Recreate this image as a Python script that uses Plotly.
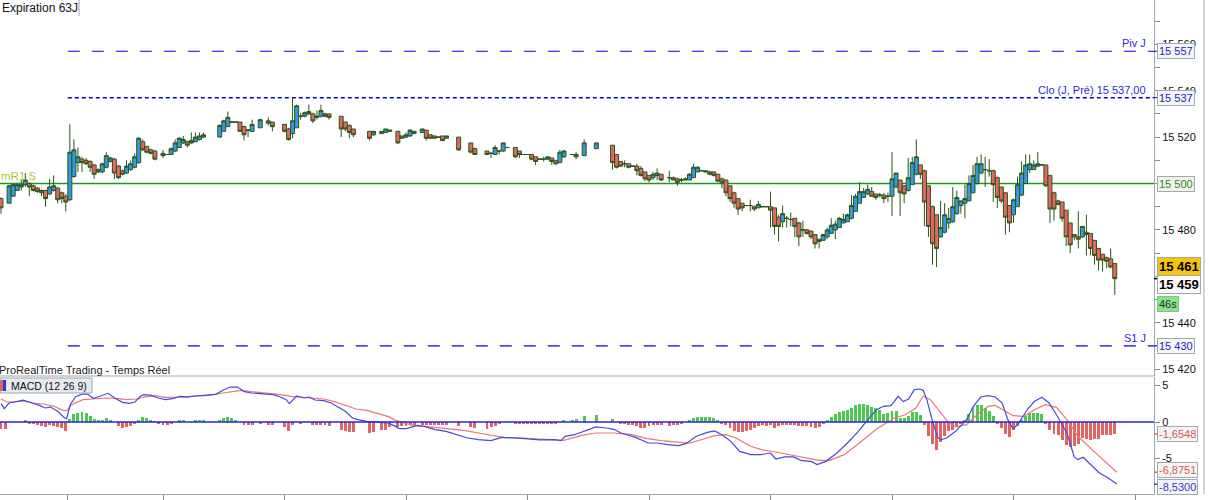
import plotly.graph_objects as go

W, H = 1209, 500
PLOT_H = 494          # plot area height, the last 6 px hold the time ticks
FONT = "Liberation Sans, Arial, sans-serif"

# ---- candles: x is the bar slot of the intraday chart (gaps = no trade)
slots = [0, 2, 3, 4, 5, 6, 7, 8, 9, 10,
         11, 12, 13, 14, 15, 16, 17, 18, 19, 20,
         21, 22, 23, 24, 25, 26, 27, 28, 29, 30,
         31, 32, 33, 34, 35, 36, 37, 38, 40, 41,
         42, 43, 44, 45, 46, 47, 48, 49, 50, 54,
         55, 56, 57, 58, 59, 60, 61, 62, 64, 66,
         67, 70, 71, 72, 73, 74, 75, 76, 77, 78,
         79, 80, 81, 84, 85, 86, 87, 91, 92, 94,
         95, 96, 98, 99, 100, 101, 102, 104, 105, 106,
         107, 108, 109, 110, 113, 116, 117, 120, 121, 122,
         123, 124, 125, 127, 128, 129, 130, 131, 132, 133,
         134, 135, 136, 137, 138, 139, 141, 142, 144, 147,
         151, 152, 153, 154, 155, 156, 157, 158, 159, 160,
         161, 162, 163, 165, 166, 167, 168, 169, 170, 171,
         172, 173, 174, 175, 176, 177, 178, 179, 180, 181,
         182, 183, 184, 185, 186, 187, 188, 189, 190, 191,
         192, 193, 194, 195, 196, 197, 198, 199, 200, 201,
         202, 203, 204, 205, 206, 207, 208, 209, 210, 211,
         212, 213, 214, 215, 216, 217, 218, 219, 220, 221,
         222, 223, 224, 225, 226, 227, 228, 229, 230, 231,
         232, 233, 234, 235, 236, 237, 238, 239, 240, 241,
         242, 243, 244, 245, 246, 247, 248, 249, 250, 251,
         252, 253, 254, 255, 256, 257, 258, 259, 260, 261,
         262, 263, 264, 265, 266, 267, 268, 269, 270, 271,
         272, 273, 274, 275]

opens = [15493.5, 15491.5, 15494.5, 15497, 15498.5, 15499.5, 15500, 15499, 15498, 15497,
         15497, 15495.5, 15497, 15498, 15496, 15494.5, 15493, 15503, 15509, 15510.5,
         15510, 15509.5, 15508, 15506, 15505, 15507, 15509.5, 15510.5, 15507.5, 15505.5,
         15504.5, 15506, 15507, 15509, 15518, 15516, 15514.5, 15514, 15512, 15512.5,
         15512.5, 15514, 15515.5, 15517.5, 15518, 15517.5, 15518, 15519, 15520, 15520,
         15522.5, 15524.5, 15526.5, 15526.5, 15526.5, 15524.5, 15523, 15522.5, 15524, 15526,
         15526.5, 15525.5, 15523.5, 15521.5, 15524, 15529, 15529, 15530, 15530, 15528.5,
         15529, 15530, 15530, 15529, 15526.5, 15525, 15523.5, 15522.5, 15521, 15521.5,
         15522, 15522.5, 15522.5, 15520.5, 15520, 15520.5, 15521.5, 15522, 15523, 15521,
         15520.5, 15520, 15520.5, 15519.5, 15520, 15517.5, 15515, 15514, 15513, 15512.5,
         15514, 15514, 15515.5, 15515.5, 15514, 15512.5, 15512.5, 15512.5, 15511.5, 15510.5,
         15510.5, 15510.5, 15511, 15510, 15509, 15511.5, 15512.5, 15512.5, 15512, 15515,
         15516.5, 15512.5, 15509.5, 15508.5, 15508.5, 15507.5, 15507.5, 15506.5, 15505, 15503.5,
         15502.5, 15503.5, 15504, 15502.5, 15502.5, 15502, 15501.5, 15501.5, 15501.5, 15502.5,
         15505, 15505.5, 15505.5, 15505, 15505, 15504, 15502, 15501.5, 15499, 15496,
         15493.5, 15491.5, 15490.5, 15490.5, 15490, 15489.5, 15490, 15490, 15490, 15489.5,
         15485.5, 15483.5, 15485, 15484.5, 15485, 15483, 15480, 15480, 15479.5, 15478,
         15476, 15475.5, 15477, 15478.5, 15480, 15481, 15483, 15483.5, 15485, 15488,
         15491.5, 15494, 15495.5, 15496.5, 15495.5, 15495, 15495, 15494.5, 15494.5, 15498.5,
         15501.5, 15499, 15497, 15499.5, 15504, 15508, 15505.5, 15499, 15490, 15486.5,
         15477, 15479, 15483, 15483.5, 15487, 15490.5, 15491.5, 15492.5, 15496, 15500,
         15504.5, 15506, 15505.5, 15505.5, 15502.5, 15498.5, 15496, 15490.5, 15486.5, 15490,
         15495, 15500, 15506, 15506, 15507.5, 15508, 15508, 15503.5, 15496, 15492.5,
         15492, 15488.5, 15483, 15478, 15477, 15477, 15479, 15478.5, 15475.5, 15472,
         15469.5, 15468, 15467.5, 15465.5]

highs = [15494, 15499.5, 15500, 15500, 15501.5, 15504.5, 15500.5, 15499.5, 15498.5, 15497.5,
         15497, 15502, 15503.5, 15498.5, 15496.5, 15495.5, 15525.5, 15519, 15515.5, 15511.5,
         15511, 15510, 15508.5, 15506.5, 15509, 15513.5, 15511.5, 15511, 15508, 15506,
         15510, 15510, 15513, 15520, 15519, 15516, 15515, 15514.5, 15514.5, 15512.5,
         15515.5, 15519, 15520, 15520.5, 15518.5, 15522, 15522, 15522, 15522, 15525.5,
         15527.5, 15531, 15527, 15526.5, 15526.5, 15525, 15523.5, 15527.5, 15528, 15528.5,
         15526.5, 15525.5, 15524, 15537, 15534, 15530.5, 15531, 15534, 15530.5, 15531.5,
         15534, 15530.5, 15530, 15529, 15526.5, 15525.5, 15523.5, 15522.5, 15522.5, 15522.5,
         15523.5, 15523, 15522.5, 15520.5, 15522, 15523.5, 15522.5, 15523.5, 15523, 15521,
         15520.5, 15520, 15520.5, 15520.5, 15520, 15517.5, 15515.5, 15514, 15513.5, 15516.5,
         15514.5, 15517.5, 15515.5, 15515.5, 15514, 15512.5, 15512.5, 15512.5, 15511.5, 15510.5,
         15511.5, 15511.5, 15511, 15510, 15514.5, 15514.5, 15512.5, 15513.5, 15519, 15517.5,
         15516.5, 15512.5, 15509.5, 15510, 15508.5, 15507.5, 15508.5, 15507.5, 15505, 15503.5,
         15505, 15506.5, 15504, 15505.5, 15503, 15502.5, 15502.5, 15502.5, 15504.5, 15508.5,
         15507.5, 15505.5, 15505.5, 15505.5, 15505, 15504, 15502.5, 15501.5, 15499, 15496.5,
         15493.5, 15491.5, 15490.5, 15493, 15490.5, 15492.5, 15490, 15490, 15496.5, 15489.5,
         15486.5, 15490.5, 15486, 15487.5, 15485, 15483.5, 15484, 15480.5, 15479.5, 15478,
         15476, 15478, 15481, 15485, 15484, 15485.5, 15487, 15487, 15495, 15495.5,
         15500.5, 15498, 15499.5, 15498.5, 15495.5, 15496, 15496, 15496, 15513.5, 15504.5,
         15501.5, 15499, 15511, 15511.5, 15519, 15508, 15506, 15499, 15490.5, 15486.5,
         15492.5, 15491.5, 15489.5, 15498.5, 15497, 15492.5, 15499.5, 15503.5, 15508, 15511.5,
         15512.5, 15511.5, 15510.5, 15506, 15503, 15498.5, 15496, 15490.5, 15493.5, 15503,
         15509.5, 15512.5, 15512.5, 15510, 15513.5, 15508, 15508, 15503.5, 15496.5, 15493,
         15492, 15488.5, 15483, 15478, 15488, 15481.5, 15486.5, 15478.5, 15475.5, 15472,
         15469.5, 15468.5, 15472, 15465.5]

lows = [15487, 15491.5, 15494.5, 15497, 15497, 15498.5, 15494.5, 15496.5, 15496, 15494.5,
        15490, 15495, 15496.5, 15491.5, 15491.5, 15488, 15492.5, 15502.5, 15505, 15505,
        15508, 15505, 15502, 15504.5, 15504.5, 15506.5, 15509, 15502, 15502, 15503.5,
        15504, 15505.5, 15506.5, 15508.5, 15514, 15513, 15512.5, 15510, 15511, 15512.5,
        15512.5, 15513.5, 15515.5, 15517, 15515.5, 15517, 15518, 15518.5, 15519.5, 15520,
        15522.5, 15524.5, 15526, 15526.5, 15522.5, 15518.5, 15520, 15522.5, 15524, 15525,
        15522.5, 15522, 15518.5, 15519.5, 15524, 15527.5, 15528.5, 15529.5, 15526, 15527.5,
        15528.5, 15528.5, 15527.5, 15520, 15522.5, 15519.5, 15520, 15518.5, 15520.5, 15521.5,
        15522, 15522.5, 15517, 15519.5, 15519.5, 15520, 15521.5, 15522, 15518.5, 15519.5,
        15519.5, 15520, 15518.5, 15519.5, 15514, 15513, 15512.5, 15512.5, 15511, 15512.5,
        15512.5, 15513.5, 15515.5, 15511, 15511, 15512.5, 15512.5, 15510, 15508, 15510.5,
        15509.5, 15510, 15508, 15508, 15509, 15511, 15512.5, 15510.5, 15512, 15515,
        15506, 15506.5, 15507, 15507, 15506.5, 15507.5, 15503.5, 15503, 15501, 15500.5,
        15501.5, 15501.5, 15501, 15500.5, 15501.5, 15499, 15500.5, 15501.5, 15501.5, 15502.5,
        15505, 15505.5, 15505, 15503.5, 15503, 15500.5, 15498, 15494.5, 15492, 15489.5,
        15486.5, 15488, 15490.5, 15488, 15488, 15489.5, 15490, 15490, 15481, 15478,
        15475, 15481, 15481, 15481.5, 15477, 15473, 15477, 15478, 15476, 15472,
        15472, 15475.5, 15476, 15478.5, 15476, 15481, 15483, 15483.5, 15484.5, 15488,
        15491.5, 15494, 15495, 15494.5, 15493, 15494, 15491.5, 15492, 15486, 15498,
        15486, 15491.5, 15496.5, 15499.5, 15503.5, 15502, 15481.5, 15477, 15465, 15464,
        15476.5, 15478.5, 15480.5, 15483, 15486.5, 15487, 15485, 15492.5, 15496, 15499.5,
        15504, 15498.5, 15503, 15492, 15489.5, 15491.5, 15478, 15479, 15483, 15490,
        15494.5, 15500, 15504.5, 15506, 15507, 15508, 15498.5, 15483, 15484, 15490.5,
        15483.5, 15473, 15470, 15475.5, 15472, 15476.5, 15469, 15469, 15465, 15462.5,
        15462, 15463.5, 15463.5, 15452]

closes = [15489.5, 15499, 15499.5, 15499.5, 15499.5, 15501.5, 15498.5, 15497, 15496.5, 15496,
          15493.5, 15498.5, 15499, 15493, 15493.5, 15492, 15513.5, 15514.5, 15511.5, 15509,
          15508.5, 15507, 15504, 15505, 15508.5, 15512, 15511, 15504.5, 15502.5, 15504,
          15507.5, 15508.5, 15511.5, 15519.5, 15514.5, 15513.5, 15513, 15510.5, 15513, 15512.5,
          15515, 15517.5, 15519.5, 15519, 15516.5, 15518.5, 15520, 15520.5, 15521, 15525,
          15527, 15528.5, 15526.5, 15526.5, 15522.5, 15521, 15523, 15525.5, 15527.5, 15527,
          15524.5, 15522.5, 15519, 15527, 15533.5, 15529, 15530.5, 15531, 15527, 15529,
          15531.5, 15529, 15528.5, 15523.5, 15523.5, 15522, 15521, 15519.5, 15522.5, 15522.5,
          15523.5, 15523, 15517.5, 15519.5, 15521, 15523, 15522.5, 15523.5, 15519.5, 15519.5,
          15519.5, 15520, 15518.5, 15520.5, 15514.5, 15513.5, 15512.5, 15512.5, 15513, 15515.5,
          15514, 15517.5, 15515.5, 15511.5, 15512.5, 15512.5, 15512.5, 15510.5, 15509.5, 15510.5,
          15510.5, 15511.5, 15509.5, 15508.5, 15513.5, 15514, 15512.5, 15511.5, 15517.5, 15517.5,
          15509, 15507, 15507.5, 15508.5, 15507, 15507.5, 15505.5, 15503.5, 15502, 15501.5,
          15504, 15504.5, 15501.5, 15502.5, 15501.5, 15500.5, 15501.5, 15502, 15504, 15507,
          15507, 15505.5, 15505, 15504, 15503.5, 15501, 15500.5, 15496, 15493.5, 15491.5,
          15489, 15489.5, 15490.5, 15490.5, 15489, 15491, 15490, 15490, 15488.5, 15481.5,
          15481.5, 15487, 15485, 15484.5, 15481.5, 15477, 15480, 15478.5, 15477, 15474,
          15475, 15478, 15480, 15482, 15482.5, 15485, 15484.5, 15486.5, 15490.5, 15494.5,
          15496.5, 15496.5, 15497.5, 15494.5, 15494, 15495, 15493.5, 15494.5, 15502, 15504.5,
          15496, 15495.5, 15502.5, 15509, 15511.5, 15504, 15492, 15481.5, 15474, 15472,
          15481, 15486.5, 15485, 15490, 15494, 15492.5, 15493.5, 15500, 15503.5, 15508.5,
          15508.5, 15506, 15505.5, 15499.5, 15494, 15492.5, 15485.5, 15483, 15493, 15499.5,
          15504.5, 15508, 15508.5, 15508, 15508.5, 15508, 15499, 15489, 15489, 15491,
          15485, 15477, 15473.5, 15477, 15476, 15481.5, 15478, 15472, 15469, 15467,
          15467, 15466.5, 15464, 15459]

assert len(slots) == len(opens) == len(highs) == len(lows) == len(closes)

# ---- MACD (12 26 9) histogram
hist_x = [0, 1, 6, 7, 8, 9, 10, 11, 12, 13,
          14, 15, 16, 17, 18, 19, 20, 21, 22, 23,
          24, 25, 26, 27, 29, 30, 31, 32, 33, 34,
          35, 36, 37, 38, 39, 40, 41, 42, 44, 45,
          48, 49, 50, 54, 55, 56, 57, 58, 60, 61,
          62, 64, 66, 67, 70, 71, 72, 74, 77, 78,
          79, 80, 81, 84, 85, 86, 87, 91, 92, 94,
          95, 96, 98, 99, 100, 101, 102, 104, 105, 106,
          107, 108, 109, 110, 113, 116, 117, 120, 121, 122,
          123, 127, 128, 129, 130, 131, 132, 133, 134, 135,
          136, 137, 139, 141, 142, 144, 147, 151, 153, 154,
          155, 156, 157, 158, 159, 160, 161, 162, 163, 165,
          166, 167, 168, 170, 171, 172, 173, 174, 175, 176,
          177, 178, 179, 180, 181, 182, 183, 184, 185, 186,
          187, 188, 189, 190, 191, 192, 193, 194, 195, 196,
          197, 198, 199, 200, 201, 202, 203, 204, 205, 206,
          207, 208, 209, 210, 211, 212, 213, 214, 215, 216,
          217, 218, 219, 220, 221, 222, 223, 224, 225, 226,
          227, 228, 229, 230, 231, 232, 233, 234, 235, 236,
          237, 238, 239, 240, 241, 242, 243, 244, 245, 246,
          247, 248, 249, 250, 251, 252, 253, 254, 255, 256,
          257, 258, 259, 260, 261, 262, 263, 264, 265, 266,
          267, 268, 269, 270, 271, 272, 273, 274, 275]

hist_v = [-0.96, -0.96, 0.18, -0.23, -0.32, -0.37, -0.5, -0.68, -0.37, -0.5,
          -0.68, -0.82, -1.28, 0.4, 1.14, 1.23, 1.32, 1.23, 0.78, 0.4,
          0.14, 0.32, 0.5, 0.32, -0.6, -0.82, -0.68, -0.5, -0.23, 0.32,
          0.68, 0.5, 0.32, 0.1, -0.14, -0.37, -0.37, -0.28, 0.32, 0.32,
          0.18, 0.18, 0.18, 0.32, 0.55, 0.68, 0.55, 0.32, -0.37, -0.37,
          -0.37, -0.28, -0.46, -0.46, -0.68, -1.19, -0.46, -0.23, -0.37, -0.37,
          -0.37, -0.37, -0.6, -1.14, -1.28, -1.37, -1.37, -1.51, -1.37, -1.14,
          -1.05, -0.7, -0.68, -0.5, -0.6, -0.37, -0.37, -0.37, -0.37, -0.37,
          -0.37, -0.46, -0.4, -0.37, -0.6, -0.68, -0.82, -0.96, -0.68, -0.5,
          -0.23, -0.23, -0.23, -0.23, -0.23, -0.32, -0.32, -0.32, -0.23, -0.23,
          -0.23, -0.23, 0.32, 0.28, 0.37, 0.82, 1.0, 0.37, -0.14, -0.23,
          -0.37, -0.46, -0.6, -0.78, -0.82, -0.6, -0.46, -0.46, -0.46, -0.55,
          -0.46, -0.46, -0.23, 0.14, 0.55, 0.68, 0.68, 0.68, 0.68, 0.55,
          0.14, -0.14, -0.46, -0.82, -1.28, -1.32, -1.32, -1.28, -1.14, -0.82,
          -0.6, -0.46, -0.5, -0.46, -0.82, -0.6, -0.37, -0.37, -0.37, -0.46,
          -0.5, -0.5, -0.6, -0.68, -0.78, -0.68, -0.14, 0.23, 0.68, 1.05,
          1.37, 1.55, 1.64, 1.91, 2.28, 2.51, 2.46, 2.28, 2.1, 1.91,
          1.69, 1.14, 1.28, 1.51, 1.55, 0.6, 0.6, 0.82, 1.41, 1.37,
          1.0, -0.46, -1.91, -2.96, -3.78, -2.74, -1.91, -1.28, -1.14, -0.6,
          -0.23, 0.32, 1.14, 2.1, 2.28, 2.28, 1.91, 1.46, 0.82, -0.23,
          -0.82, -1.69, -2.1, -1.14, -0.55, 0.32, 0.82, 1.28, 1.28, 1.28,
          1.05, -0.14, -1.05, -1.64, -1.73, -2.51, -3.2, -3.42, -3.33, -2.96,
          -2.19, -2.37, -2.42, -2.37, -2.28, -1.82, -1.82, -1.82, -1.65]

assert len(hist_x) == len(hist_v)

# MACD line (blue) and signal line (red)
macd_x = [0, 0.8, 2, 3.3, 5.5, 7.7, 9.5, 10.9, 12.2, 14,
          15.7, 16.2, 17.1, 18.4, 20.2, 21.5, 22.8, 24.6, 26.4, 28.2,
          30, 31.7, 33.1, 34.4, 35.3, 37.1, 38.8, 40.6, 42.4, 44.2,
          46, 47.7, 50.4, 53, 54.8, 56.6, 58.4, 60.1, 61.9, 63.7,
          67.2, 69, 70.4, 71.2, 72.1, 73, 74.8, 76.1, 77.5, 79.7,
          81.5, 83.2, 85, 86.8, 88.1, 90.3, 93, 95.7, 97.4, 98.3,
          100.1, 102.8, 104.5, 107.2, 109.9, 112.5, 115.2, 117.9, 121, 123.6,
          126.7, 129.4, 133, 136.5, 138.3, 139.3, 141.6, 144.2, 146.9, 149.5,
          151.3, 153.1, 156.7, 159.8, 162, 164.6, 167.3, 169.1, 171.7, 174.4,
          176.2, 178, 180.2, 182.4, 185.1, 187.7, 190, 191.3, 193.5, 195.7,
          197.5, 200.2, 201.5, 203.7, 206.4, 209, 211.7, 214.4, 216.2, 217.9,
          219.7, 220.6, 221.5, 222.8, 224.1, 225.5, 226.8, 227.7, 228.6, 229.9,
          231.3, 232.1, 233.5, 235.7, 238.4, 240.1, 241.9, 243.7, 245.5, 247.2,
          248.6, 249.9, 251.2, 253.5, 255.2, 257, 258.8, 260.6, 263.2, 265,
          265.9, 267.2, 269.4, 271.2, 273, 275.5]
macd_v = [2.51, 1.83, 2.6, 2.74, 3.0, 2.6, 2.28, 1.92, 2.05, 1.46,
          0.55, 0.46, 2.37, 3.47, 3.84, 3.79, 3.24, 3.56, 3.93, 3.24,
          2.69, 2.56, 2.74, 3.52, 3.74, 3.65, 3.29, 3.06, 3.2, 3.52,
          3.42, 3.56, 3.65, 3.79, 4.34, 4.79, 4.79, 4.15, 3.97, 3.88,
          3.74, 3.42, 3.06, 2.51, 2.97, 3.56, 3.29, 3.42, 3.01, 2.92,
          2.6, 2.05, 1.46, 0.55, 0.32, 0.09, -0.05, -0.14, -0.6, -0.91,
          -0.91, -0.46, -0.6, -1.05, -1.28, -1.74, -2.19, -2.42, -2.56, -2.1,
          -2.15, -2.28, -2.46, -2.42, -2.56, -1.96, -1.74, -1.19, -0.68, -0.82,
          -1.0, -1.51, -2.1, -2.88, -2.88, -3.11, -3.24, -2.97, -1.96, -1.42,
          -1.23, -1.74, -2.65, -4.02, -4.47, -4.47, -4.25, -5.07, -4.79, -4.79,
          -5.25, -5.43, -5.84, -5.39, -4.25, -2.88, -1.28, 0.55, 1.69, 2.15,
          2.24, 2.83, 3.52, 2.79, 3.15, 4.43, 4.52, 4.34, 3.06, 0.32,
          -2.15, -2.42, -2.19, -1.28, 0.32, 2.15, 3.42, 3.61, 3.42, 2.6,
          0.32, -0.96, -0.23, 1.78, 2.83, 3.38, 2.6, 1.0, -1.51, -4.79,
          -5.16, -4.84, -6.07, -6.99, -7.53, -8.49]

sig_x = [0, 1.5, 3.3, 5.5, 7.7, 10.4, 13.1, 15.3, 16.2, 17.5,
         20.2, 22.8, 26.4, 29.1, 30.8, 33.5, 35.3, 38, 40.6, 44.2,
         47.7, 51.3, 54.8, 57.5, 59.3, 61.9, 65.5, 69, 71.7, 74.4,
         77, 79.7, 82.3, 85, 87.7, 90.3, 93, 95.7, 97.4, 99.2,
         101.9, 104.5, 107.2, 110.8, 114.3, 117.9, 121.4, 124.1, 128.5, 133,
         136.5, 139, 140.7, 144.2, 146.9, 151.3, 155.8, 159.3, 162.9, 167.3,
         170, 173.5, 176.2, 178.9, 181.5, 185.1, 187.7, 191.3, 194.8, 198.4,
         201.9, 204.6, 208.2, 211.7, 214.4, 216.2, 217.9, 220.6, 223.3, 225.9,
         227.7, 229.5, 232.1, 233.9, 235.7, 238.4, 241, 243.7, 245.5, 248.1,
         249.9, 252.6, 255.2, 257.9, 260.6, 263.2, 265.9, 269.4, 273, 275.5]
sig_v = [3.15, 2.74, 2.74, 2.88, 2.6, 2.47, 2.15, 1.6, 1.55, 2.37,
         3.06, 3.2, 3.29, 3.2, 3.06, 3.15, 3.42, 3.61, 3.38, 3.42,
         3.52, 3.65, 3.97, 4.25, 4.34, 4.15, 3.97, 3.74, 3.52, 3.42,
         3.29, 3.15, 2.79, 2.24, 1.78, 1.6, 1.14, 0.73, 0.23, -0.05,
         -0.5, -0.6, -0.73, -0.91, -1.14, -1.51, -1.87, -2.1, -2.19, -2.33,
         -2.47, -2.51, -2.24, -1.74, -1.51, -1.51, -1.74, -2.24, -2.56, -2.79,
         -2.88, -2.33, -1.87, -1.74, -2.19, -3.33, -3.79, -4.11, -4.47, -4.79,
         -5.25, -5.25, -4.47, -2.97, -1.74, -0.96, -0.37, 0.55, 1.0, 1.92,
         3.56, 3.06, 1.23, -0.05, -0.68, -0.37, 1.0, 2.15, 2.28, 1.46,
         0.87, 0.78, 1.69, 2.37, 2.01, 0.32, -1.96, -3.79, -5.62, -6.88]

assert len(macd_x) == len(macd_v) and len(sig_x) == len(sig_v)

# ---- levels and axis labels
level_names = ["Piv J", "Clo (J, Pré) 15 537,00", "S1 J"]
level_prices = [15557, 15537, 15430]
level_box = ["15 557", "15 537", "15 430"]
r1_price = 15500
last_price = 15459
macd_last = [-1.6548, -6.8751, -8.5300]
macd_last_txt = ["-1,6548", "-6,8751", "-8,5300"]

# labels sitting under the value boxes (15 500, 15 460) are left empty
price_ticks = list(range(15420, 15580, 10))
price_text = ["15 420", "", "15 440", "", "", "", "15 480", "", "", "",
              "15 520", "", "15 540", "", "15 560", ""]
time_ticks = [16.5, 40, 70, 100, 130, 160, 190, 220, 250, 280]


def fx(px):
    return px / W


def fy(py):
    return (PLOT_H - py) / PLOT_H


SLOT = 4.05                   # px per bar
X_END = fx(1154)
GREY = "#a0a8b0"
BLUE = "#0000f0"
EDGE = "#2b5514"

fig = go.Figure()

fig.add_trace(go.Candlestick(
    x=slots, open=opens, high=highs, low=lows, close=closes,
    xaxis="x", yaxis="y", whiskerwidth=0, showlegend=False,
    increasing=dict(fillcolor="#3399e6", line=dict(color=EDGE, width=1)),
    decreasing=dict(fillcolor="#e56666", line=dict(color=EDGE, width=1)),
))

fig.add_trace(go.Bar(
    x=hist_x, y=hist_v, xaxis="x", yaxis="y2", width=0.72, showlegend=False,
    marker=dict(color=["#4cc84c" if v > 0 else "#e06464" for v in hist_v], line=dict(width=0)),
))
fig.add_trace(go.Scatter(x=sig_x, y=sig_v, xaxis="x", yaxis="y2", mode="lines",
                         line=dict(color="#e87878", width=1.2), showlegend=False))
fig.add_trace(go.Scatter(x=macd_x, y=macd_v, xaxis="x", yaxis="y2", mode="lines",
                         line=dict(color="#4848e0", width=1.2), showlegend=False))

x_right = (1154 - 1) / SLOT
shapes = []
# dashed daily levels start at the session open
for p, d, lw in zip(level_prices, ["12px,12px", "4px,3px", "12px,12px"], [1.2, 1.5, 1.2]):
    shapes.append(dict(type="line", xref="x", yref="y", x0=16.5, x1=x_right, y0=p, y1=p,
                       line=dict(color=BLUE, width=lw, dash=d), layer="below"))
shapes.append(dict(type="line", xref="paper", yref="y", x0=0, x1=X_END, y0=r1_price, y1=r1_price,
                   line=dict(color="#14a014", width=1.4), layer="below"))
# MACD zero line
shapes.append(dict(type="line", xref="paper", yref="y2", x0=0, x1=X_END, y0=0, y1=0,
                   line=dict(color="#2424e0", width=1.5)))
# panel frame
shapes.append(dict(type="line", xref="paper", yref="paper", x0=0, x1=X_END, y0=fy(376), y1=fy(376),
                   line=dict(color=GREY, width=1)))
shapes.append(dict(type="line", xref="paper", yref="paper", x0=fx(1204), x1=fx(1204), y0=0, y1=1,
                   line=dict(color=GREY, width=1)))
shapes.append(dict(type="line", xref="paper", yref="paper", x0=fx(79), x1=fx(79), y0=fy(0), y1=fy(16),
                   line=dict(color=GREY, width=1)))
# MACD legend box and its icon
shapes.append(dict(type="rect", xref="paper", yref="paper", x0=fx(0), x1=fx(92), y0=fy(378), y1=fy(393),
                   fillcolor="#e6eaee", line=dict(color=GREY, width=1)))
shapes.append(dict(type="rect", xref="paper", yref="paper", x0=fx(0), x1=fx(3), y0=fy(380), y1=fy(391),
                   fillcolor="#e06464", line=dict(width=0)))
shapes.append(dict(type="rect", xref="paper", yref="paper", x0=fx(3), x1=fx(6), y0=fy(380), y1=fy(391),
                   fillcolor="#3333dd", line=dict(width=0)))
# small markers on the value axes
for v, c in zip(macd_last, ["#e06464", "#e06464", "#3333dd"]):
    shapes.append(dict(type="line", xref="paper", yref="y2", x0=fx(1154), x1=fx(1158), y0=v, y1=v,
                       line=dict(color=c, width=1.5)))
for p in level_prices:
    shapes.append(dict(type="line", xref="paper", yref="y", x0=fx(1154), x1=fx(1158), y0=p, y1=p,
                       line=dict(color=BLUE, width=1)))
shapes.append(dict(type="line", xref="paper", yref="y", x0=fx(1154), x1=fx(1158), y0=last_price, y1=last_price,
                   line=dict(color="#000000", width=1.5)))

ann = []
ann.append(dict(xref="paper", yref="paper", x=0, y=fy(8), xanchor="left", yanchor="middle",
                text="Expiration 63J", showarrow=False, font=dict(family=FONT, size=12, color="#111111")))
ann.append(dict(xref="paper", yref="paper", x=fx(-3), y=fy(370), xanchor="left", yanchor="middle",
                text="ProRealTime Trading - Temps Réel", showarrow=False,
                font=dict(family=FONT, size=11, color="#222222")))
ann.append(dict(xref="paper", yref="paper", x=fx(9), y=fy(385.5), xanchor="left", yanchor="middle",
                text="MACD (12 26 9)", showarrow=False, font=dict(family=FONT, size=10.5, color="#111111")))
ann.append(dict(xref="paper", yref="y", x=fx(-1), y=r1_price, xanchor="left", yanchor="bottom", yshift=0,
                text="mR1 S", showarrow=False, font=dict(family=FONT, size=11.5, color="#a8c832")))

for name, p in zip(level_names, level_prices):
    ann.append(dict(xref="paper", yref="y", x=fx(1148), y=p, xanchor="right", yanchor="bottom", yshift=0,
                    text=name, showarrow=False, font=dict(family=FONT, size=11, color="#2a2ae0")))


def box(text, y, yref, color, bg="#f6f6f6", size=11, bold=False, yshift=0, border=GREY):
    t = "<b>%s</b>" % text if bold else text
    return dict(xref="paper", yref=yref, x=fx(1157), y=y, xanchor="left", yanchor="middle", yshift=yshift,
                text=t, showarrow=False, bgcolor=bg, bordercolor=border, borderwidth=1, borderpad=1,
                font=dict(family=FONT, size=size, color=color))


for t, p in zip(level_box, level_prices):
    ann.append(box(t, p, "y", "#2323c8"))
ann.append(box("15 500", r1_price, "y", "#2b8a2b", bg="#f2f2ea"))
ann.append(box("15 461", last_price, "y", "#000000", bg="#f5c30a", size=13, bold=True, yshift=12))
ann.append(box("15 459", last_price, "y", "#000000", bg="#fafafa", size=13, bold=True, yshift=-6))
ann.append(box("46s", last_price, "y", "#113311", bg="#90e090", yshift=-25, border="#7ac87a"))
for v, t, c, s in zip(macd_last, macd_last_txt, ["#d35a5a", "#d35a5a", "#3a3acc"], [0, 2, -3]):
    ann.append(box(t, v, "y2", c, bg="#f4f4f4", yshift=s))

fig.update_layout(
    width=W, height=H,
    margin=dict(l=0, r=0, t=0, b=H - PLOT_H),
    paper_bgcolor="white", plot_bgcolor="white",
    boxgap=0.02, boxgroupgap=0,
    bargap=0,
    showlegend=False,
    hovermode=False,
    font=dict(family=FONT, size=11, color="#111111"),
    xaxis=dict(domain=[0, X_END], range=[-1 / SLOT, x_right], anchor="y2",
               showgrid=False, zeroline=False, showline=True, linecolor=GREY,
               tickvals=time_ticks, ticktext=[""] * len(time_ticks),
               ticks="outside", ticklen=6, tickcolor="#888888",
               rangeslider=dict(visible=False), fixedrange=True),
    yaxis=dict(domain=[fy(376), 1], range=[15500 - (376 - 183.5) / 2.32, 15500 + 183.5 / 2.32],
               side="right", anchor="x", showgrid=False, zeroline=False,
               showline=True, linecolor=GREY,
               tickvals=price_ticks, ticktext=price_text,
               ticks="outside", ticklen=5, tickcolor="#888888",
               tickfont=dict(family=FONT, size=11, color="#111111")),
    yaxis2=dict(domain=[0, fy(377)], range=[(422 - 494) / 7.3, (422 - 377) / 7.3],
                side="right", anchor="x", showgrid=False, zeroline=False,
                showline=True, linecolor=GREY,
                tickvals=[-5, 0, 5], ticktext=["-5", "0", "5"],
                ticks="outside", ticklen=5, tickcolor="#888888",
                tickfont=dict(family=FONT, size=11, color="#111111")),
    shapes=shapes,
    annotations=ann,
)

# the page body has a default 8px margin; drop it so the figure fills the window
fig.write_html("out.html", config={"displayModeBar": False},
               post_script="document.body.style.margin='0';")
